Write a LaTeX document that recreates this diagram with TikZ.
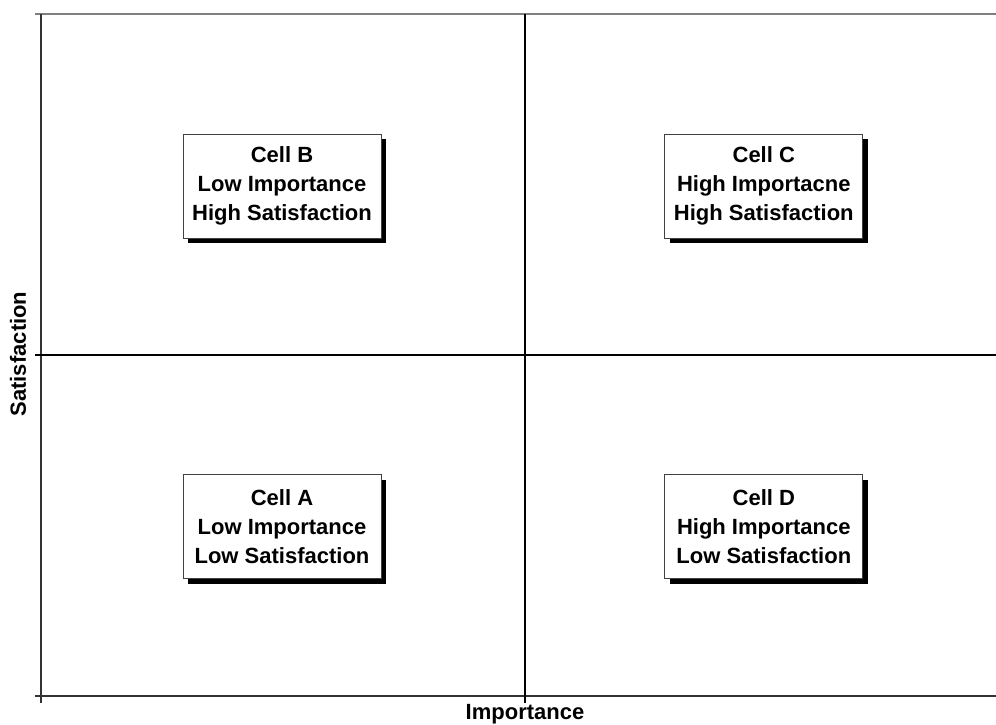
\documentclass[tikz,border=0pt]{standalone}
\usepackage{fontspec}
\setmainfont{Liberation Sans}
\usepackage{tikz}
\usetikzlibrary{positioning,shadows}
\tikzset{
  cellbox/.style = {
    rectangle,
    draw=black!75,
    line width=0.8pt,
    fill=white,
    align=center,
    font=\fontsize{22}{29}\selectfont\bfseries,
    minimum width=198pt,
    minimum height=104pt,
    inner sep=0pt,
    drop shadow={shadow xshift=5pt, shadow yshift=-5pt, fill=black, opacity=1}
  },
  axisline/.style = {
    draw=black!80,
    line width=1.4pt
  },
  gridline/.style = {
    draw=black,
    line width=1.6pt
  },
  axislabel/.style = {
    font=\fontsize{22}{26}\selectfont\bfseries
  }
}

\begin{document}
\begin{tikzpicture}[x=1pt,y=-1pt]
    \useasboundingbox (0,0) rectangle (996,725);
    % corners of the plot
    \coordinate (topleft) at (41,14);
    \coordinate (botleft) at (41,696);
    \coordinate (midleft) at (41,355);
    \coordinate (topmid) at (525,14);
    \coordinate (botmid) at (525,696);
    \draw[draw=black!50, line width=1.4pt] (35,14) -- (996,14);
    \draw[axisline] (topleft) -- ([yshift=-7pt]botleft);
    \draw[axisline] ([xshift=-6pt]botleft) -- (996,696);
    \draw[gridline] ([xshift=-6pt]midleft) -- (996,355);
    \draw[gridline] (topmid) -- ([yshift=-7pt]botmid);
    \node[cellbox] (cellB) at (282,186) {Cell B\\Low Importance\\High Satisfaction};
    \node[cellbox, right=283pt of cellB] (cellC) {Cell C\\High Importacne\\High Satisfaction};
    \node[cellbox, below=236pt of cellB] (cellA) {Cell A\\Low Importance\\Low Satisfaction};
    \node[cellbox, right=283pt of cellA] (cellD) {Cell D\\High Importance\\Low Satisfaction};
    \node[axislabel] (xlabel) at (525,714) {Importance};
    \node[axislabel, rotate=90] (ylabel) at (18,354) {Satisfaction};
  \end{tikzpicture}
\end{document}
